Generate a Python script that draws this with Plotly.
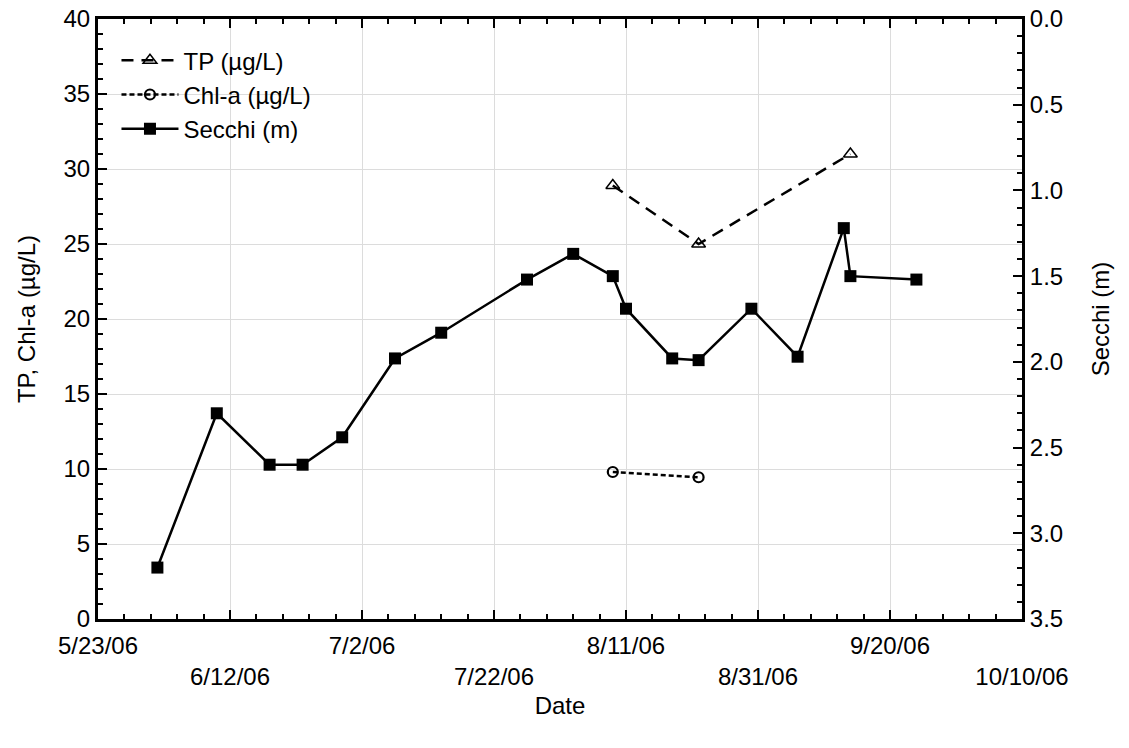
import plotly.graph_objects as go

# ---- data ----
secchi_dates = ["2006-06-01", "2006-06-10", "2006-06-18", "2006-06-23", "2006-06-29",
                "2006-07-07", "2006-07-14", "2006-07-27", "2006-08-03", "2006-08-09",
                "2006-08-11", "2006-08-18", "2006-08-22", "2006-08-30", "2006-09-06",
                "2006-09-13", "2006-09-14", "2006-09-24"]
secchi_m = [3.2, 2.3, 2.6, 2.6, 2.44, 1.98, 1.83, 1.52, 1.37, 1.5,
            1.69, 1.98, 1.99, 1.69, 1.97, 1.22, 1.5, 1.52]

tp_dates = ["2006-08-09", "2006-08-22", "2006-09-14"]
tp_ugl = [28.9, 25.0, 31.0]

chla_dates = ["2006-08-09", "2006-08-22"]
chla_ugl = [9.8, 9.45]

tick_dates = ["2006-05-23", "2006-06-12", "2006-07-02", "2006-07-22", "2006-08-11",
              "2006-08-31", "2006-09-20", "2006-10-10"]
tick_labels = ["5/23/06", "6/12/06", "7/2/06", "7/22/06", "8/11/06",
               "8/31/06", "9/20/06", "10/10/06"]

FONT = "Liberation Sans, Arial, sans-serif"
FS = 24

# alternate label rows
tick_text = [t if i % 2 == 0 else "<br>" + t for i, t in enumerate(tick_labels)]

fig = go.Figure()

fig.add_trace(go.Scatter(
    x=tp_dates, y=tp_ugl, name="TP (µg/L)", mode="lines+markers",
    line=dict(color="black", width=2.5, dash="12px,8px"),
    marker=dict(symbol="triangle-up-open", size=12, color="black", line=dict(width=1.5)),
))
fig.add_trace(go.Scatter(
    x=chla_dates, y=chla_ugl, name="Chl-a (µg/L)", mode="lines+markers",
    line=dict(color="black", width=2.5, dash="5px,3px"),
    marker=dict(symbol="circle-open", size=10, color="black", line=dict(width=2.2)),
))
fig.add_trace(go.Scatter(
    x=secchi_dates, y=secchi_m, name="Secchi (m)", mode="lines+markers", yaxis="y2",
    line=dict(color="black", width=2.5),
    marker=dict(symbol="square", size=12, color="black"),
))

fig.update_layout(
    width=1129, height=748,
    margin=dict(l=98, r=107, t=19, b=129, autoexpand=False),
    paper_bgcolor="white", plot_bgcolor="white",
    font=dict(family=FONT, size=FS, color="black"),
    showlegend=True,
    legend=dict(x=0.02, y=0.968, xanchor="left", yanchor="top",
                bgcolor="rgba(0,0,0,0)", borderwidth=0,
                font=dict(family=FONT, size=FS, color="black"),
                tracegroupgap=0, itemwidth=57),
    xaxis=dict(
        type="date", automargin=False,
        range=["2006-05-23", "2006-10-10"],
        tickvals=tick_dates, ticktext=tick_text,
        ticks="inside", ticklen=9, tickwidth=2, tickcolor="black",
        ticklabelstandoff=3,
        showline=True, linecolor="black", linewidth=3, mirror="ticks",
        showgrid=True, gridcolor="#dcdcdc", gridwidth=1,
        zeroline=False,
        minor=dict(ticks="inside", ticklen=5, tickwidth=2, tickcolor="black",
                   dtick=4 * 86400000, tick0="2006-05-23", showgrid=False),
        title=dict(text="Date", standoff=9, font=dict(size=FS)),
        tickfont=dict(size=FS),
    ),
    yaxis=dict(
        range=[0, 40], dtick=5, tick0=0, automargin=False,
        ticks="inside", ticklen=9, tickwidth=2, tickcolor="black",
        showline=True, linecolor="black", linewidth=3, mirror=False,
        showgrid=True, gridcolor="#dcdcdc", gridwidth=1,
        zeroline=False,
        minor=dict(ticks="inside", ticklen=5, tickwidth=2, tickcolor="black",
                   dtick=1, showgrid=False),
        title=dict(text="TP, Chl-a (µg/L)", standoff=22, font=dict(size=FS)),
        tickfont=dict(size=FS),
    ),
    yaxis2=dict(
        overlaying="y", side="right", automargin=False,
        range=[3.5, 0], dtick=0.5, tick0=0, tickformat=".1f",
        ticks="inside", ticklen=9, tickwidth=2, tickcolor="black",
        showline=True, linecolor="black", linewidth=3,
        showgrid=False, zeroline=False,
        minor=dict(ticks="inside", ticklen=5, tickwidth=2, tickcolor="black",
                   dtick=0.1, showgrid=False),
        title=dict(text="Secchi (m)", standoff=31, font=dict(size=FS)),
        tickfont=dict(size=FS),
    ),
)

fig.write_html("out.html")
